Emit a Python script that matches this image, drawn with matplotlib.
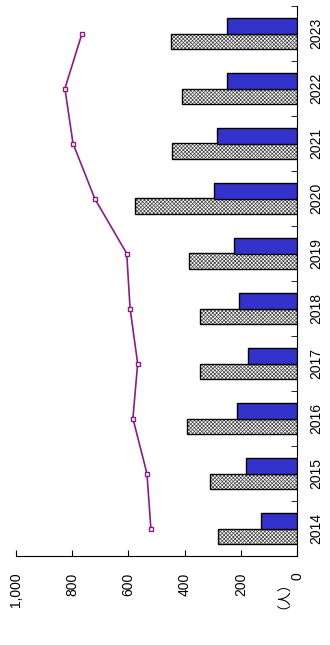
#!/usr/bin/env python3

import numpy as np
import matplotlib
matplotlib.use("Agg")
from matplotlib import pyplot as plt

matplotlib.rcParams['font.family'] = ['Liberation Sans', 'DejaVu Sans']
matplotlib.rcParams['font.size'] = 10
matplotlib.rcParams['hatch.linewidth'] = 0.5

# chart values (people)
years = ["2014", "2015", "2016", "2017", "2018", "2019", "2020", "2021", "2022", "2023"]
hatched_vals = [280, 308, 390, 345, 345, 385, 575, 445, 410, 450]
blue_vals = [127, 183, 212, 174, 206, 223, 295, 285, 248, 248]
line_vals = [520, 534, 584, 567, 594, 606, 720, 797, 826, 765]
value_ticks = [0, 200, 400, 600, 800, 1000]
value_labels = ["0", "200", "400", "600", "800", "1,000"]

pos = np.arange(len(years))
h = 0.28

fig = plt.figure(figsize=(3.3, 6.45), dpi=100)
ax = fig.add_axes([16 / 330, 1 - 556 / 645, (297 - 16) / 330, 550 / 645])

# hatched bars: fill pattern, then black outline
ax.barh(pos - h / 2, hatched_vals, height=h, color='white', edgecolor='#404040',
        linewidth=0, hatch='xxxxxxxxx')
ax.barh(pos - h / 2, hatched_vals, height=h, fill=False, edgecolor='black', linewidth=1.0)
ax.barh(pos + h / 2, blue_vals, height=h, color='#3333cc', edgecolor='black', linewidth=1.0)

ax.plot(line_vals, pos, color='#8b1a8b', linewidth=1.2, marker='s', markersize=3.5,
        markerfacecolor='white', markeredgecolor='#8b1a8b', markeredgewidth=1.0)

ax.set_xlim(1000, 0)
ax.set_ylim(-0.5, len(years) - 0.5)

ax.spines['top'].set_visible(False)
ax.spines['left'].set_visible(False)

ax.set_xticks(value_ticks)
ax.set_xticklabels(value_labels, rotation=90)
ax.tick_params(axis='x', direction='in', length=4, pad=12)

ax.yaxis.tick_right()
ax.set_yticks(pos)
ax.set_yticklabels(years, rotation=90, va='center')
ax.set_yticks(np.arange(-0.5, len(years), 1.0), minor=True)
ax.tick_params(axis='y', which='major', length=0, pad=9)
ax.tick_params(axis='y', which='minor', direction='in', length=4)

fig.text(277 / 330, 1 - 588 / 645, "（人）", rotation=90, ha='center', va='center',
         fontsize=10, family=['Noto Sans CJK JP', 'DejaVu Sans'])

plt.savefig("out.png", dpi=100)
